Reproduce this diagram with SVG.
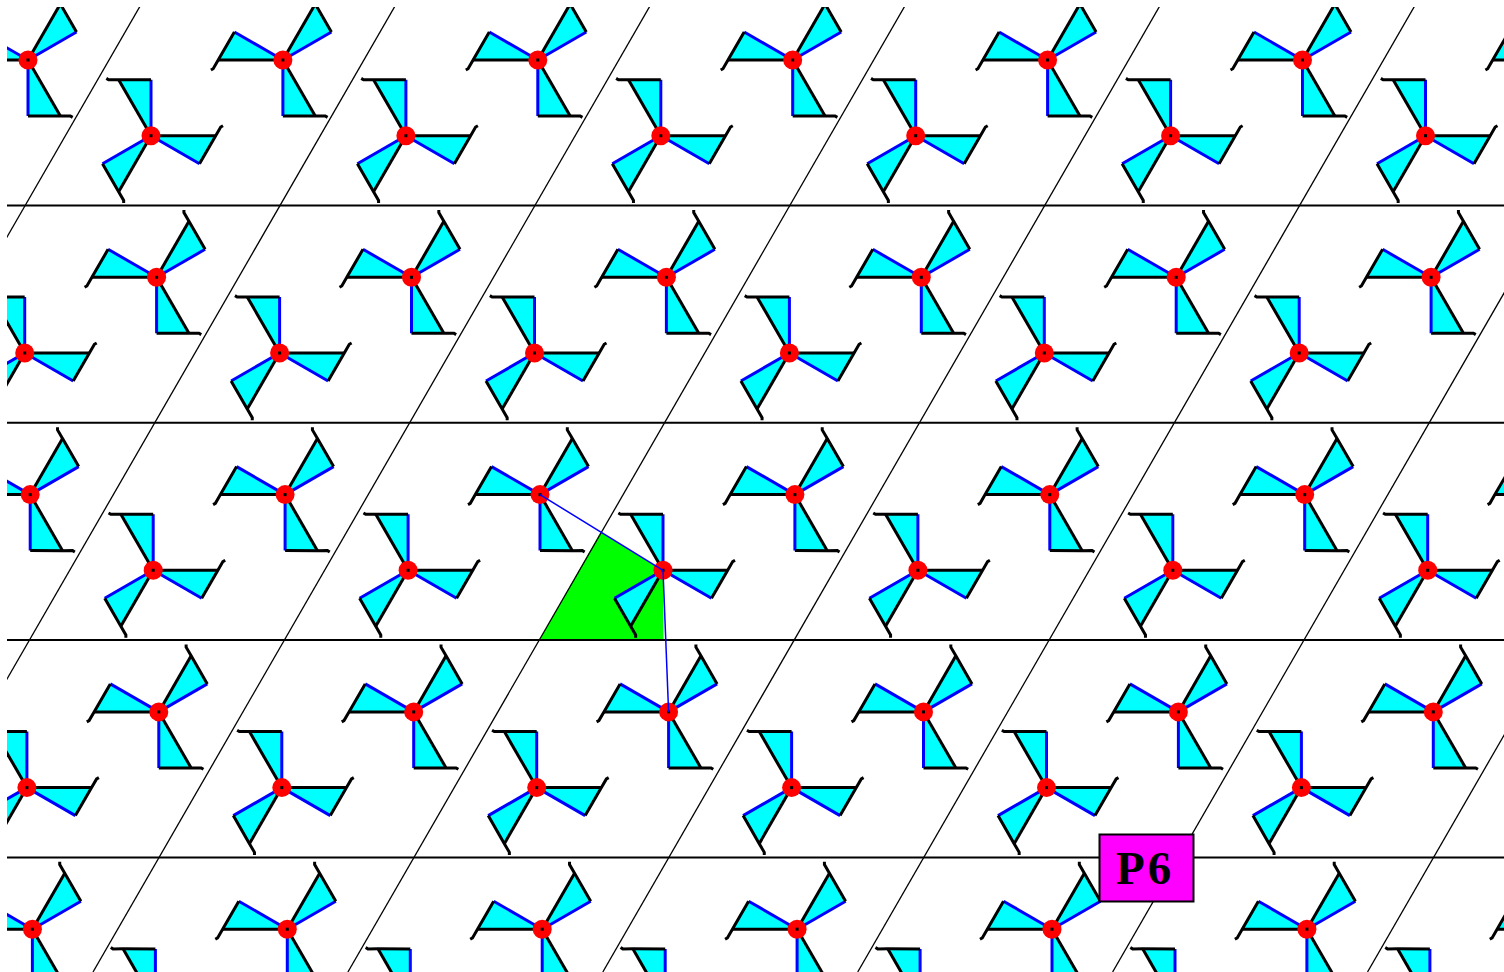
<svg xmlns="http://www.w3.org/2000/svg" xmlns:xlink="http://www.w3.org/1999/xlink" width="1504" height="972" viewBox="0 0 1504 972">
  <style>
    .grid { stroke: #000; fill: none; }
    .hline { stroke-width: 2; }
    .sline { stroke-width: 1.3; }
    .edge-k { stroke: #000; stroke-width: 3; fill: none; stroke-linejoin: miter; }
    .edge-b { stroke: #0000ff; stroke-width: 3; fill: none; }
    .link { stroke: #0000ff; stroke-width: 1.5; fill: none; }
    .label-box { fill: #ff00ff; stroke: #000; stroke-width: 2; }
    .label-text { font-family: "Liberation Serif", "Times New Roman", serif; font-weight: bold; font-size: 47px; fill: #000; letter-spacing: 3px; }
  </style>
  <defs>
    <clipPath id="field">
      <rect x="7" y="7" width="1497" height="965"/>
    </clipPath>
    <!-- one flag-shaped blade: black edge pointing left, right angle at the blue edge's tip -->
    <g id="blade">
      <polygon points="0,0 -48.5,-28 -64.7,0" fill="#00ffff"/>
      <line class="edge-b" x1="0" y1="0" x2="-48.5" y2="-28"/>
      <line class="edge-k" x1="0" y1="0" x2="-64.7" y2="0"/>
      <polyline class="edge-k" points="-48.5,-28 -64.7,0 -69.7,8.7 -72,10"/>
    </g>
    <!-- three-bladed pinwheel and its half-turn copy -->
    <g id="pwA">
      <use href="#blade"/>
      <use href="#blade" transform="rotate(120)"/>
      <use href="#blade" transform="rotate(240)"/>
      <circle r="9.5" fill="#ff0000"/>
      <rect x="-1.5" y="-1.5" width="3" height="3" fill="#000"/>
    </g>
    <g id="pwB">
      <use href="#pwA" transform="rotate(180)"/>
    </g>
  </defs>

  <rect width="1504" height="972" fill="#fff"/>

  <g clip-path="url(#field)">
    <!-- shaded fundamental region -->
    <polygon id="region" points="600.6,531.9 663,570.3 663.5,640.1 539.5,640.1" fill="#00ff00"/>

    <!-- lattice lines -->
    <g id="lattice" class="grid">
      <line class="hline" x1="7" y1="205.5" x2="1504" y2="205.5"/>
      <line class="hline" x1="7" y1="422.8" x2="1504" y2="422.8"/>
      <line class="hline" x1="7" y1="640.1" x2="1504" y2="640.1"/>
      <line class="hline" x1="7" y1="857.4" x2="1504" y2="857.4"/>
      <line class="sline" x1="143.6" y1="0" x2="-416.8" y2="972"/>
      <line class="sline" x1="398.5" y1="0" x2="-161.9" y2="972"/>
      <line class="sline" x1="653.4" y1="0" x2="93" y2="972"/>
      <line class="sline" x1="908.3" y1="0" x2="347.9" y2="972"/>
      <line class="sline" x1="1163.2" y1="0" x2="602.8" y2="972"/>
      <line class="sline" x1="1418.1" y1="0" x2="857.7" y2="972"/>
      <line class="sline" x1="1673" y1="0" x2="1112.6" y2="972"/>
      <line class="sline" x1="1927.9" y1="0" x2="1367.5" y2="972"/>
    </g>

    <!-- pinwheels, orientation A -->
    <g id="pinwheels-a">
      <use id="a-0-0" href="#pwA" x="28" y="60"/>
      <use id="a-0-1" href="#pwA" x="282.9" y="60"/>
      <use id="a-0-2" href="#pwA" x="537.8" y="60"/>
      <use id="a-0-3" href="#pwA" x="792.7" y="60"/>
      <use id="a-0-4" href="#pwA" x="1047.6" y="60"/>
      <use id="a-0-5" href="#pwA" x="1302.5" y="60"/>
      <use id="a-0-6" href="#pwA" x="1557.4" y="60"/>

      <use id="a-1-0" href="#pwA" x="156.6" y="277.3"/>
      <use id="a-1-1" href="#pwA" x="411.5" y="277.3"/>
      <use id="a-1-2" href="#pwA" x="666.4" y="277.3"/>
      <use id="a-1-3" href="#pwA" x="921.3" y="277.3"/>
      <use id="a-1-4" href="#pwA" x="1176.2" y="277.3"/>
      <use id="a-1-5" href="#pwA" x="1431.1" y="277.3"/>

      <use id="a-2-0" href="#pwA" x="30.2" y="494.6"/>
      <use id="a-2-1" href="#pwA" x="285.1" y="494.6"/>
      <use id="a-2-2" href="#pwA" x="540" y="494.6"/>
      <use id="a-2-3" href="#pwA" x="794.9" y="494.6"/>
      <use id="a-2-4" href="#pwA" x="1049.8" y="494.6"/>
      <use id="a-2-5" href="#pwA" x="1304.7" y="494.6"/>
      <use id="a-2-6" href="#pwA" x="1559.6" y="494.6"/>

      <use id="a-3-0" href="#pwA" x="158.8" y="711.9"/>
      <use id="a-3-1" href="#pwA" x="413.7" y="711.9"/>
      <use id="a-3-2" href="#pwA" x="668.6" y="711.9"/>
      <use id="a-3-3" href="#pwA" x="923.5" y="711.9"/>
      <use id="a-3-4" href="#pwA" x="1178.4" y="711.9"/>
      <use id="a-3-5" href="#pwA" x="1433.3" y="711.9"/>

      <use id="a-4-0" href="#pwA" x="32.4" y="929.2"/>
      <use id="a-4-1" href="#pwA" x="287.3" y="929.2"/>
      <use id="a-4-2" href="#pwA" x="542.2" y="929.2"/>
      <use id="a-4-3" href="#pwA" x="797.1" y="929.2"/>
      <use id="a-4-4" href="#pwA" x="1052" y="929.2"/>
      <use id="a-4-5" href="#pwA" x="1306.9" y="929.2"/>
      <use id="a-4-6" href="#pwA" x="1561.8" y="929.2"/>
    </g>

    <!-- pinwheels, orientation B (half turn) -->
    <g id="pinwheels-b">
      <use id="b-0-0" href="#pwB" x="151" y="135.7"/>
      <use id="b-0-1" href="#pwB" x="405.9" y="135.7"/>
      <use id="b-0-2" href="#pwB" x="660.8" y="135.7"/>
      <use id="b-0-3" href="#pwB" x="915.7" y="135.7"/>
      <use id="b-0-4" href="#pwB" x="1170.6" y="135.7"/>
      <use id="b-0-5" href="#pwB" x="1425.5" y="135.7"/>

      <use id="b-1-0" href="#pwB" x="24.7" y="353"/>
      <use id="b-1-1" href="#pwB" x="279.6" y="353"/>
      <use id="b-1-2" href="#pwB" x="534.5" y="353"/>
      <use id="b-1-3" href="#pwB" x="789.4" y="353"/>
      <use id="b-1-4" href="#pwB" x="1044.3" y="353"/>
      <use id="b-1-5" href="#pwB" x="1299.2" y="353"/>
      <use id="b-1-6" href="#pwB" x="1554.1" y="353"/>

      <use id="b-2-0" href="#pwB" x="153.2" y="570.3"/>
      <use id="b-2-1" href="#pwB" x="408.1" y="570.3"/>
      <use id="b-2-2" href="#pwB" x="663" y="570.3"/>
      <use id="b-2-3" href="#pwB" x="917.9" y="570.3"/>
      <use id="b-2-4" href="#pwB" x="1172.8" y="570.3"/>
      <use id="b-2-5" href="#pwB" x="1427.7" y="570.3"/>

      <use id="b-3-0" href="#pwB" x="26.9" y="787.6"/>
      <use id="b-3-1" href="#pwB" x="281.8" y="787.6"/>
      <use id="b-3-2" href="#pwB" x="536.7" y="787.6"/>
      <use id="b-3-3" href="#pwB" x="791.6" y="787.6"/>
      <use id="b-3-4" href="#pwB" x="1046.5" y="787.6"/>
      <use id="b-3-5" href="#pwB" x="1301.4" y="787.6"/>
      <use id="b-3-6" href="#pwB" x="1556.3" y="787.6"/>

      <use id="b-4-0" href="#pwB" x="155.4" y="1004.9"/>
      <use id="b-4-1" href="#pwB" x="410.3" y="1004.9"/>
      <use id="b-4-2" href="#pwB" x="665.2" y="1004.9"/>
      <use id="b-4-3" href="#pwB" x="920.1" y="1004.9"/>
      <use id="b-4-4" href="#pwB" x="1175" y="1004.9"/>
      <use id="b-4-5" href="#pwB" x="1429.9" y="1004.9"/>
    </g>

    <!-- connectors between rotation centres -->
    <g id="connectors">
      <line class="link" x1="540" y1="494.6" x2="663" y2="570.3"/>
      <line class="link" x1="663" y1="570.3" x2="668.6" y2="711.9"/>
    </g>
  </g>

  <!-- group label -->
  <g id="label">
    <rect class="label-box" x="1099.5" y="834.5" width="94" height="67"/>
    <text class="label-text" x="1116" y="884">P6</text>
  </g>
</svg>
